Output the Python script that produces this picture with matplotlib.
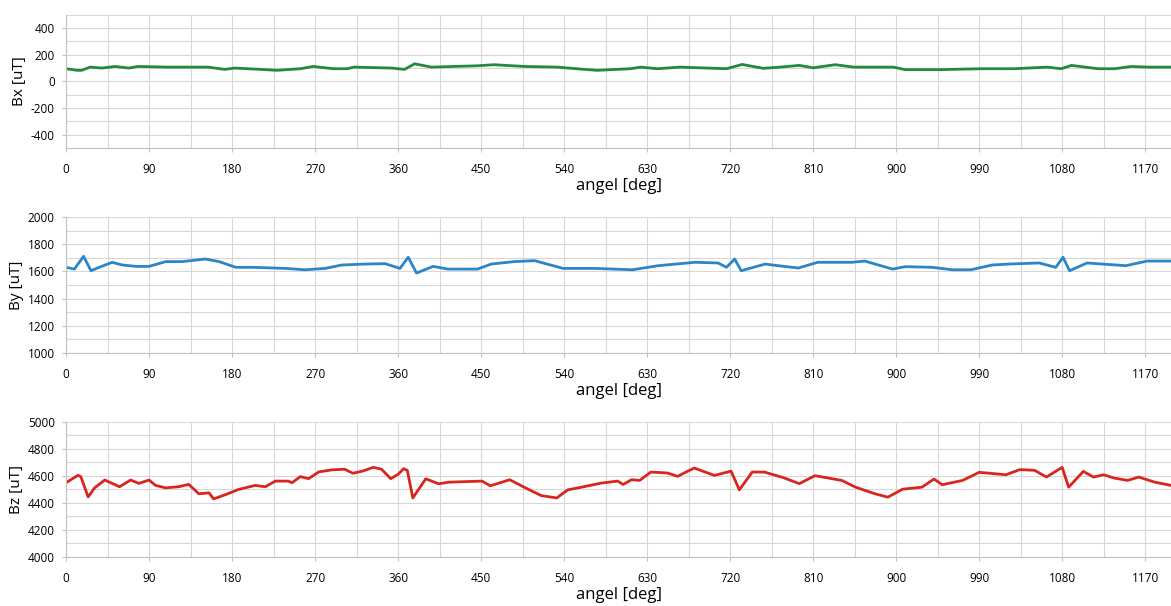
import matplotlib
matplotlib.use("Agg")
import matplotlib.pyplot as plt
from matplotlib.ticker import MultipleLocator

# angle [deg] / field [uT]
bx_deg = [0, 12, 17, 26, 39, 53, 68, 78, 111, 154, 172, 183, 211, 229, 254, 268, 290, 305, 312,
          353, 367, 378, 396, 446, 464, 497, 533, 562, 576, 612, 623, 641, 666, 716, 733, 756,
          774, 795, 810, 834, 854, 897, 910, 948, 992, 1028, 1064, 1079, 1090, 1119, 1137,
          1155, 1173, 1199]
bx_val = [94, 82, 82, 106, 99, 111, 99, 111, 106, 106, 89, 99, 89, 82, 94, 111, 94, 94, 106,
          99, 89, 131, 106, 116, 124, 111, 106, 89, 82, 94, 106, 94, 106, 94, 126, 97,
          106, 119, 101, 124, 106, 106, 87, 87, 94, 94, 106, 94, 119, 94, 94,
          111, 106, 106]

by_deg = [0, 9, 19, 27, 36, 50, 61, 76, 90, 108, 126, 151, 166, 184, 202, 238, 259, 281, 299,
          324, 346, 362, 371, 380, 398, 414, 446, 461, 486, 508, 539, 574, 614, 642, 682, 707,
          716, 725, 732, 758, 772, 794, 815, 852, 866, 896, 910, 939, 961, 981, 1004, 1022,
          1055, 1073, 1081, 1088, 1107, 1149, 1172, 1199]
by_val = [1630, 1617, 1711, 1605, 1630, 1667, 1647, 1637, 1637, 1672, 1672, 1691, 1672, 1630,
          1630, 1622, 1612, 1622, 1647, 1654, 1657, 1622, 1704, 1588, 1637, 1617, 1617, 1654,
          1672, 1679, 1622, 1622, 1612, 1642, 1667, 1662, 1630, 1691, 1605, 1654, 1642, 1625,
          1667, 1667, 1676, 1617, 1635, 1630, 1612, 1612, 1647, 1654, 1662, 1630, 1704, 1605,
          1662, 1642, 1676, 1676]

bz_deg = [0, 13, 16, 24, 31, 42, 58, 70, 79, 90, 97, 108, 122, 133, 144, 155, 160, 173, 187,
          205, 216, 227, 241, 245, 254, 263, 274, 288, 302, 311, 322, 333, 342, 352, 360, 366,
          370, 376, 390, 404, 415, 451, 460, 481, 498, 515, 532, 544, 559, 580, 598, 604, 613,
          622, 634, 652, 663, 681, 703, 721, 730, 744, 757, 778, 795, 812, 841, 856, 877, 891,
          907, 928, 941, 950, 972, 990, 1019, 1034, 1050, 1063, 1080, 1087, 1103, 1114, 1125,
          1136, 1151, 1163, 1180, 1198]
bz_val = [4550, 4605, 4595, 4445, 4512, 4570, 4520, 4570, 4545, 4570, 4530, 4512, 4520, 4538,
          4468, 4475, 4430, 4462, 4500, 4530, 4520, 4562, 4562, 4550, 4595, 4580, 4630, 4645,
          4650, 4620, 4637, 4664, 4650, 4580, 4612, 4654, 4641, 4437, 4579, 4542, 4554, 4562,
          4527, 4572, 4512, 4455, 4437, 4497, 4517, 4547, 4562, 4537, 4572, 4567, 4629, 4622,
          4597, 4659, 4604, 4636, 4497, 4629, 4629, 4587, 4543, 4602, 4567, 4517, 4468, 4443,
          4502, 4517, 4577, 4535, 4567, 4627, 4609, 4647, 4642, 4592, 4664, 4517, 4634, 4592,
          4609, 4585, 4567, 4592, 4555, 4530]

panels = [
    (bx_deg, bx_val, "Bx [uT]", (-500, 500), "#23893f", [0.0564, 0.7558, 0.9436, 0.2202]),
    (by_deg, by_val, "By [uT]", (1000, 2000), "#2a86c6", [0.0564, 0.4175, 0.9436, 0.2244]),
    (bz_deg, bz_val, "Bz [uT]", (4000, 5000), "#d8261f", [0.0564, 0.0809, 0.9436, 0.2228]),
]

plt.rcParams["font.family"] = ["Open Sans", "DejaVu Sans"]
plt.rcParams["axes.unicode_minus"] = False
fig = plt.figure(figsize=(11.71, 6.06), dpi=100)

for deg, val, ylabel, ylim, color, pos in panels:
    ax = fig.add_axes(pos)
    ax.plot(deg, val, color=color, lw=2.0, solid_joinstyle="round")
    ax.set_xlim(0, 1198)
    ax.set_ylim(*ylim)
    ax.xaxis.set_major_locator(MultipleLocator(90))
    ax.xaxis.set_minor_locator(MultipleLocator(45))
    ax.yaxis.set_major_locator(MultipleLocator(200))
    ax.yaxis.set_minor_locator(MultipleLocator(100))
    ax.grid(True, which="both", color="#dbd6d6", lw=0.8)
    ax.set_axisbelow(True)
    for side in ["top", "right"]:
        ax.spines[side].set_visible(False)
    ax.spines["left"].set_color("#c4c0c0")
    ax.spines["bottom"].set_color("#c4c0c0")
    ax.tick_params(which="both", length=3, color="#c4c0c0", labelsize=8.5, pad=5)
    ax.tick_params(axis="x", pad=8)
    ax.tick_params(which="minor", length=0)
    ax.set_xlabel("angel [deg]", fontsize=12, labelpad=1)
    ax.set_ylabel(ylabel, fontsize=11, labelpad=3)

fig.savefig("out.png", dpi=100)
